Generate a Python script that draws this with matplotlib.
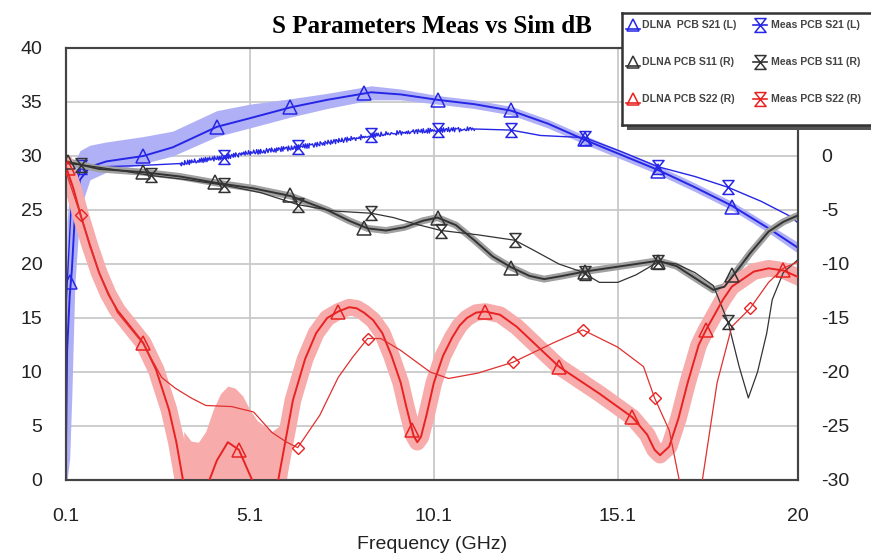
import numpy as np
import matplotlib
matplotlib.use("Agg")
import matplotlib.pyplot as plt
from matplotlib.path import Path
from matplotlib.patches import Rectangle

plt.rcParams['axes.unicode_minus'] = False
plt.rcParams['font.family'] = ['Liberation Sans', 'DejaVu Sans']

# ---------------- data ----------------
# DLNA PCB S21 (left axis, dB)
f_s21 = [0.1, 0.13, 0.2, 0.26, 0.34, 0.48, 0.75, 1.2, 2.2, 3.0, 4.2, 5.1, 6.2, 7.2, 8.4, 9.2,
         10.2, 11.2, 12.2, 13.2, 14.2, 15.2, 16.2, 17.2, 18.2, 19.2, 20]
s21 = [3, 12, 17, 19.5, 24.4, 27.8, 29.0, 29.5, 30.0, 30.8, 32.7, 33.5, 34.5, 35.2, 35.9, 35.7,
       35.2, 34.8, 34.2, 33.0, 31.5, 30.1, 28.7, 27.1, 25.4, 23.3, 21.5]
s21_lo = [0, 0, 2, 8, 18, 25, 27.8, 28.5, 29.3, 30.0, 31.8, 32.6, 33.6, 34.4, 35.2, 35.2,
          34.8, 34.4, 33.8, 32.6, 31.1, 29.7, 28.3, 26.7, 25.0, 22.9, 21.0]
s21_hi = [14, 24, 27, 28.5, 29.5, 30.5, 31.0, 31.3, 31.8, 32.3, 34.2, 34.8, 35.3, 35.8, 36.5, 36.2,
          35.6, 35.2, 34.6, 33.4, 31.9, 30.5, 29.1, 27.5, 25.8, 23.7, 22.0]
f_s21_mk = [0.22, 2.2, 4.2, 6.2, 8.2, 10.2, 12.2, 14.2, 16.2, 18.2]
s21_mk = [18.3, 30.0, 32.7, 34.5, 35.8, 35.2, 34.3, 31.6, 28.6, 25.3]

# Meas PCB S21 (left axis)
f_m21 = [0.1, 0.25, 0.5, 1.0, 2.0, 3.2, 4.4, 5.1, 6.4, 7.7, 8.4, 9.3, 10.2, 11.2, 12.2, 13.0,
         14.2, 15.2, 16.2, 17.2, 18.1, 19.0, 19.8, 20]
m21 = [16, 26, 28.8, 29.0, 29.1, 29.3, 29.9, 30.3, 30.8, 31.5, 31.9, 32.2, 32.4, 32.5, 32.4, 31.9,
       31.7, 30.4, 29.0, 28.1, 27.1, 25.8, 24.4, 23.8]
f_m21_mk = [0.5, 4.4, 6.4, 8.4, 10.2, 12.2, 14.2, 16.2, 18.1]
m21_mk = [29.0, 29.9, 30.8, 31.9, 32.4, 32.4, 31.7, 29.0, 27.1]

# DLNA PCB S11 (right axis)
f_s11 = [0.1, 1.0, 2.2, 3.2, 4.2, 5.2, 6.2, 7.2, 7.8, 8.3, 8.8, 9.3, 9.8, 10.2, 10.7, 11.2, 11.7,
         12.2, 12.7, 13.1, 13.6, 14.2, 15.2, 16.2, 16.7, 17.2, 17.7, 18.0, 18.3, 18.7, 19.2, 19.6, 20]
s11 = [-0.5, -1.2, -1.5, -1.9, -2.5, -3.0, -3.7, -5.0, -6.0, -6.7, -6.9, -6.6, -6.0, -5.7, -6.4,
       -7.8, -9.3, -10.3, -11.1, -11.4, -11.1, -10.7, -10.2, -9.7, -10.2, -11.3, -12.4, -12.1,
       -10.8, -9.0, -7.0, -6.1, -5.5]
f_s11_mk = [0.15, 2.2, 4.15, 6.2, 8.2, 10.2, 12.2, 14.2, 16.2, 18.2]
s11_mk = [-0.6, -1.5, -2.4, -3.6, -6.7, -5.7, -10.4, -10.7, -9.8, -11.0]

# Meas PCB S11 (right axis)
f_m11 = [0.1, 0.5, 1.5, 2.4, 3.4, 4.4, 5.4, 6.4, 7.4, 8.4, 9.0, 9.6, 10.3, 11.3, 12.3, 12.8, 13.5,
         14.1, 14.6, 15.1, 15.6, 16.2, 16.7, 17.2, 17.7, 18.1, 18.4, 18.65, 18.9, 19.15, 19.3, 19.6, 20]
m11 = [-0.7, -0.8, -1.3, -1.8, -2.2, -2.7, -3.4, -4.5, -5.1, -5.3, -5.7, -6.3, -6.9, -7.3, -7.8,
       -8.7, -10.0, -10.7, -11.7, -11.7, -11.0, -9.8, -10.0, -10.8, -12.0, -15.4, -19.5, -22.4,
       -20.0, -16.4, -13.3, -10.8, -9.6]
f_m11_mk = [0.5, 2.4, 4.4, 6.4, 8.4, 10.3, 12.3, 14.2, 16.2, 18.1]
m11_mk = [-0.8, -1.8, -2.7, -4.5, -5.3, -6.9, -7.8, -10.8, -9.8, -15.4]

# DLNA PCB S22 (right axis)
f_s22 = [0.1, 0.3, 0.5, 0.75, 1.0, 1.25, 1.5, 1.85, 2.2, 2.55, 2.9, 3.1, 3.28, 3.6, 4.0, 4.2, 4.5,
         4.8, 5.16, 5.5, 5.87, 6.27, 6.6, 6.9, 7.2, 7.5, 7.8, 8.0, 8.2, 8.45, 8.7, 8.95, 9.2, 9.35,
         9.55, 9.65, 9.75, 9.9, 10.1, 10.35, 10.6, 10.8, 11.0, 11.25, 11.5, 11.9, 12.35, 13.5, 14.6,
         15.5, 15.9, 16.1, 16.25, 16.5, 16.75, 17.0, 17.3, 17.5, 17.96, 18.2, 18.8, 19.2, 19.6, 20]
s22 = [-1.0, -3.0, -5.5, -8.3, -10.8, -12.8, -14.3, -15.8, -17.3, -19.8, -23.5, -26.5, -30, -32.5,
       -30, -28.2, -26.5, -27.2, -30, -32, -30, -22.6, -18.8, -16.4, -15.0, -14.4, -14.0, -14.1,
       -14.5, -15.2, -16.4, -18.5, -21.0, -23.2, -25.9, -26.5, -26.0, -24.0, -21.0, -18.5, -16.8,
       -15.7, -15.0, -14.5, -14.4, -14.7, -15.8, -19.5, -22.0, -24.2, -25.8, -27.2, -27.7, -26.9,
       -24.3, -21.0, -17.5, -16.1, -13.3, -12.1, -10.7, -10.4, -10.6, -11.2]
f_s22_dome = [3.3, 3.5, 3.7, 3.9, 4.1, 4.3, 4.5, 4.7, 4.9, 5.1, 5.3, 5.5, 5.7, 5.9, 6.1]
s22_dome_hi = [-25.5, -26.4, -26.5, -25.5, -23.5, -22.0, -21.3, -21.5, -22.2, -23.5, -24.5, -25.0,
               -25.5, -25.0, -24.0]
f_s22_mk = [0.15, 2.2, 4.8, 7.5, 9.5, 11.5, 13.5, 15.5, 17.5, 19.6]
s22_mk = [-1.1, -17.3, -27.2, -14.4, -25.4, -14.4, -19.5, -24.2, -16.1, -10.6]

# Meas PCB S22 (right axis)
f_m22 = [0.1, 0.5, 1.0, 1.5, 2.2, 2.7, 3.07, 3.5, 3.9, 4.6, 5.2, 5.7, 6.1, 6.4, 7.0, 7.5, 7.9, 8.3,
         8.66, 9.2, 10.0, 10.5, 11.3, 12.25, 13.35, 14.15, 15.1, 15.8, 16.1, 16.5, 16.8, 17.1, 17.4,
         17.8, 18.2, 18.7, 19.2, 19.6, 20]
m22 = [-1.5, -5.5, -10.8, -14.5, -17.4, -20.5, -21.5, -22.4, -23.1, -23.2, -23.7, -25.6, -26.5,
       -27.0, -24.0, -20.5, -18.6, -16.9, -16.9, -18.0, -20.0, -20.6, -20.1, -19.1, -17.3, -16.1,
       -17.7, -19.5, -22.4, -25.4, -30.5, -33.0, -30.0, -21.0, -15.8, -14.1, -11.7, -10.4, -9.8]
f_m22_mk = [0.5, 6.4, 8.3, 12.25, 14.15, 16.1, 18.7]
m22_mk = [-5.5, -27.0, -16.9, -19.1, -16.1, -22.4, -14.1]

xticks = [0.1, 5.1, 10.1, 15.1, 20]
xtick_labels = ["0.1", "5.1", "10.1", "15.1", "20"]
yticks_left = [0, 5, 10, 15, 20, 25, 30, 35, 40]
yticks_right = [-30, -25, -20, -15, -10, -5, 0]

legend_labels = ["DLNA  PCB S21 (L)", "Meas PCB S21 (L)",
                 "DLNA PCB S11 (R)", "Meas PCB S11 (R)",
                 "DLNA PCB S22 (R)", "Meas PCB S22 (R)"]

# ---------------- style ----------------
BLUE = '#2626e6'
BLUE_BAND = '#b0b0f7'
BLACK = '#333333'
GRAY_BAND = '#a0a0a0'
RED = '#e82222'
PINK_BAND = '#f7abab'
MEAS_RED = '#e03030'

hour = Path([(-0.8, 1), (0.8, 1), (-0.8, -1), (0.8, -1), (-0.8, 1)],
            [Path.MOVETO, Path.LINETO, Path.LINETO, Path.LINETO, Path.CLOSEPOLY])

W, H = 871, 559
fig = plt.figure(figsize=(W / 100, H / 100), dpi=100)
L, R, T, B = 66, 798, 48, 480
ax = fig.add_axes([L / W, 1 - B / H, (R - L) / W, (B - T) / H])
ax.set_xlim(0.1, 20)
ax.set_ylim(0, 40)
ax2 = ax.twinx()
ax2.set_ylim(-30, 10)

# grid
for g in yticks_left[1:-1]:
    ax.axhline(g, color='#c9c9c9', lw=1.3, zorder=0)
for g in xticks[1:-1]:
    ax.axvline(g, color='#c9c9c9', lw=1.3, zorder=0)

# S21 band and lines
ax.fill_between(f_s21, s21_lo, s21_hi, color=BLUE_BAND, lw=0, zorder=1)
ax.plot(f_s21, s21, color=BLUE, lw=1.4, zorder=3)
ax.plot(f_s21_mk, s21_mk, ls='none', marker='^', ms=10, mfc='none', mec=BLUE, mew=1.1, zorder=4)

f_m21a = np.array(f_m21)
m21a = np.array(m21)
ax.plot(f_m21a[f_m21a <= 3.2], m21a[f_m21a <= 3.2], color=BLUE, lw=1.0, zorder=3)
ax.plot(f_m21a[f_m21a >= 11.2], m21a[f_m21a >= 11.2], color=BLUE, lw=1.0, zorder=3)
mid = (f_m21a >= 3.2) & (f_m21a <= 11.2)
ln, = ax.plot(f_m21a[mid], m21a[mid], color=BLUE, lw=1.0, zorder=3)
ln.set_sketch_params(scale=2.4, length=2.5, randomness=1.5)
ax.plot(f_m21_mk, m21_mk, ls='none', marker=hour, ms=10, mfc='none', mec=BLUE, mew=1.1, zorder=4)

# S11
ax2.plot(f_s11, s11, color=GRAY_BAND, lw=5, solid_capstyle='round', zorder=1)
ax2.plot(f_s11, s11, color=BLACK, lw=1.4, zorder=3)
ax2.plot(f_s11_mk, s11_mk, ls='none', marker='^', ms=10, mfc='none', mec=BLACK, mew=1.1, zorder=4)
ax2.plot(f_m11, m11, color=BLACK, lw=0.9, zorder=3)
ax2.plot(f_m11_mk, m11_mk, ls='none', marker=hour, ms=10, mfc='none', mec=BLACK, mew=1.1, zorder=4)

# S22
ax2.fill_between(f_s22_dome, -30, s22_dome_hi, color=PINK_BAND, lw=0, zorder=1)
ax2.plot(f_s22, s22, color=PINK_BAND, lw=12, solid_joinstyle='round', zorder=1)
ax2.plot(f_s22, s22, color=RED, lw=1.4, zorder=3)
ax2.plot(f_s22_mk, s22_mk, ls='none', marker='^', ms=10, mfc='none', mec=RED, mew=1.1, zorder=4)
ax2.plot(f_m22, m22, color=MEAS_RED, lw=0.9, zorder=3)
ax2.plot(f_m22_mk, m22_mk, ls='none', marker='D', ms=6, mfc='none', mec=RED, mew=1.0, zorder=4)

# axes styling
ax.set_xticks(xticks)
ax.set_xticklabels(xtick_labels)
ax.set_yticks(yticks_left)
ax2.set_yticks(yticks_right)
ax.tick_params(axis='both', length=0, labelsize=14, colors='#222222')
ax.tick_params(axis='x', pad=20)
ax.tick_params(axis='y', pad=17)
ax2.tick_params(axis='y', length=0, labelsize=14, colors='#222222', pad=17)
for a in (ax, ax2):
    for s in a.spines.values():
        s.set_color('#444444')
        s.set_linewidth(1.5)
ax.spines['top'].set_color('#777777')
ax.set_xlabel("Frequency (GHz)", fontsize=14, labelpad=8, color='#222222')

fig.text(432 / W, 1 - 33 / H, "S Parameters Meas vs Sim dB", ha='center', va='baseline',
         fontsize=18, fontweight='bold', family=['Liberation Serif', 'DejaVu Serif'])

# legend (manual)
lx0, ly0, lx1, ly1 = 622, 13, 880, 125
shadow = Rectangle(((lx0 + 5) / W, 1 - (ly1 + 5) / H), (lx1 - lx0) / W, (ly1 - ly0) / H,
                   transform=fig.transFigure, facecolor='#555555', edgecolor='none', zorder=5)
fig.patches.append(shadow)
lax = fig.add_axes([lx0 / W, 1 - ly1 / H, (lx1 - lx0) / W, (ly1 - ly0) / H], zorder=10)
lax.set_xlim(0, lx1 - lx0)
lax.set_ylim(ly1 - ly0, 0)
lax.set_xticks([])
lax.set_yticks([])
lax.set_facecolor('white')
for s in lax.spines.values():
    s.set_color('#333333')
    s.set_linewidth(1.8)

rows = [12, 49, 86]
cols = [(11, 20), (138, 149)]
styles = [(BLUE, '^'), (BLUE, hour), (BLACK, '^'), (BLACK, hour), (RED, '^'), (RED, hour)]
for i, lab in enumerate(legend_labels):
    r, c = divmod(i, 2)
    y = rows[r]
    mx, tx = cols[c]
    col, mk = styles[i]
    if mk == '^':
        lax.plot([mx - 7, mx + 7], [y + 4, y + 4], color=col, lw=1.2)
        lax.plot([mx], [y], ls='none', marker='^', ms=9, mfc='none', mec=col, mew=1.1)
    else:
        lax.plot([mx - 7, mx + 7], [y, y], color=col, lw=1.2)
        lax.plot([mx], [y], ls='none', marker=hour, ms=10, mfc='none', mec=col, mew=1.1)
    lax.text(tx, y, lab, fontsize=7.6, fontweight='bold', color='#444444', va='center', ha='left')

fig.savefig("out.png", dpi=100)
